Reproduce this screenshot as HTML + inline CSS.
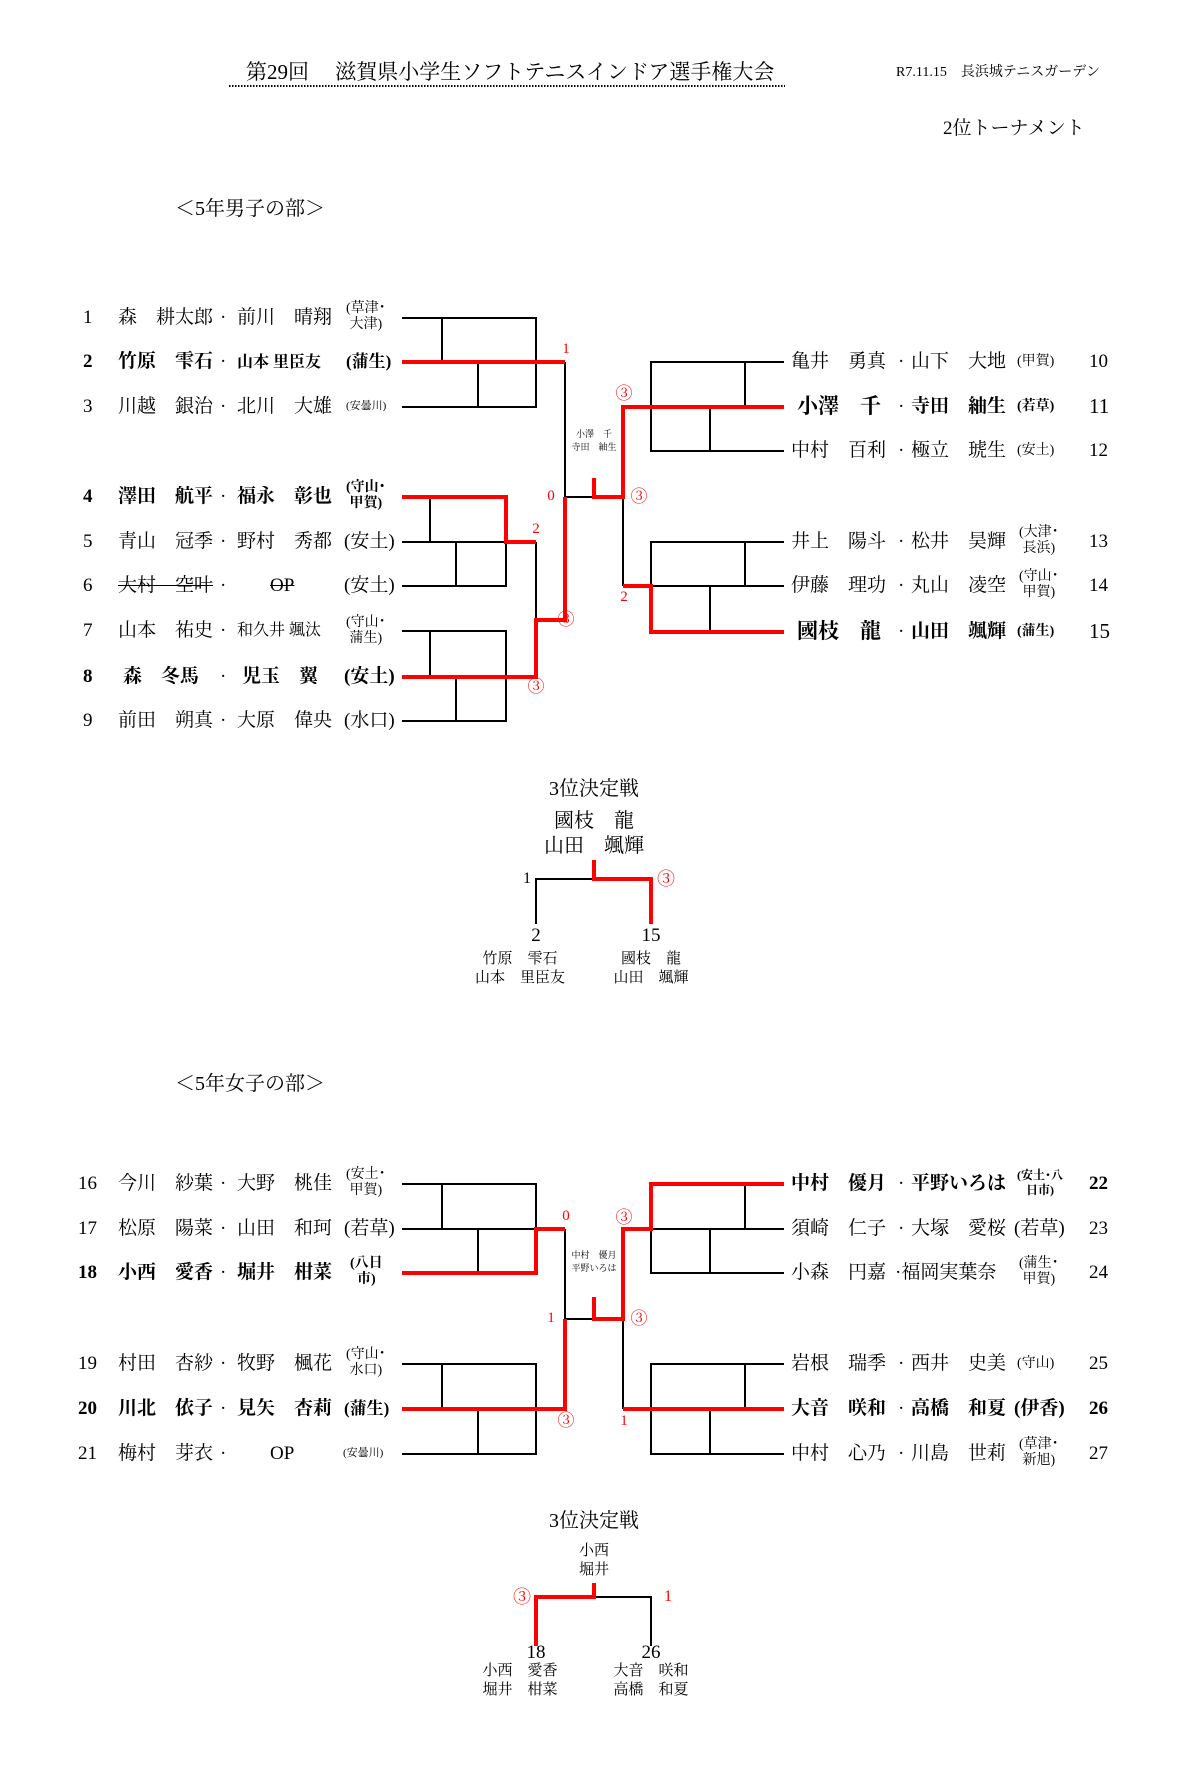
<!DOCTYPE html>
<html><head><meta charset="utf-8">
<style>
body{margin:0;background:#fff;}
#p{position:relative;width:1200px;height:1785px;overflow:hidden;background:#fff;font-family:"Liberation Serif","Noto Serif CJK JP","Noto Serif CJK SC",serif;color:#000;}
.t{position:absolute;white-space:nowrap;line-height:1;font-size:19px;}
.b{font-weight:bold;}
.s{font-size:14px;line-height:16px;text-align:center;}
.xs{font-size:11px;}
.r{color:#f00;}
.c{transform:translateX(-50%);text-align:center;}
.st{text-decoration:line-through;}
svg{position:absolute;left:0;top:0;}
</style></head><body><div id="p">
<svg width="1200" height="1785" fill="none">
<g stroke="#000" stroke-width="2">
<path d="M402 318H536V407H402M442 318V362M478 362V407M402 362H536M565 362V497"/>
<path d="M402 497H506V586H402M402 542H536M430 497V542M456 542V586M536 542V620"/>
<path d="M402 631H506V721H402M430 631V677M456 677V721"/>
<path d="M565 497H594M623 497V586"/>
<path d="M784 362H651V451H784M745 362V407M710 407V451"/>
<path d="M784 542H651V586H784M745 542V586M710 586V632"/>
<path d="M536 924V879H594"/>
<path d="M402 1184H536V1273M442 1184V1229M478 1229V1273M402 1229H536M565 1229V1319H594"/>
<path d="M402 1364H536V1454H402M442 1364V1409M478 1409V1454"/>
<path d="M623 1319V1409"/>
<path d="M651 1229H784M651 1229V1273H784M745 1184V1229M710 1229V1273"/>
<path d="M784 1364H651V1454H784M651 1409H784M745 1364V1409M710 1409V1454"/>
<path d="M594 1597H651V1646"/>
</g>
<g stroke="#f00" stroke-width="4">
<path d="M402 362H565"/>
<path d="M402 497H506V542H536"/>
<path d="M402 677H536V620H565V497"/>
<path d="M594 478V497H623V407H784"/>
<path d="M623 586H651V632H784"/>
<path d="M594 860V879H651V924"/>
<path d="M402 1273H536V1229H565"/>
<path d="M565 1319V1409H402"/>
<path d="M594 1297V1319H623V1229H651V1184H784"/>
<path d="M623 1409H784"/>
<path d="M536 1646V1597H594V1583"/>
</g>
<line x1="229" y1="86" x2="785" y2="86" stroke="#000" stroke-width="2" stroke-dasharray="1.5 1.5"/>
</svg>

<div class="t" style="left:246px;top:62px;font-size:21px;">第29回　 滋賀県小学生ソフトテニスインドア選手権大会</div>
<div class="t" style="left:896px;top:66px;font-size:14px;">R7.11.15　長浜城テニスガーデン</div>
<div class="t" style="left:943px;top:119px;font-size:19px;">2位トーナメント</div>
<div class="t" style="left:175px;top:199px;font-size:20px;">＜5年男子の部＞</div>

<!-- boys left -->
<div class="t" style="left:83px;top:308px;">1</div><div class="t" style="left:118px;top:308px;">森　耕太郎</div><div class="t" style="left:220px;top:308px;">·</div><div class="t" style="left:237px;top:308px;">前川　晴翔</div><div class="t s" style="left:346px;top:301px;">(草津･<br>大津)</div>
<div class="t b" style="left:83px;top:352px;">2</div><div class="t b" style="left:118px;top:352px;">竹原　雫石</div><div class="t" style="left:220px;top:352px;">·</div><div class="t b" style="left:237px;top:355px;font-size:16px;">山本 里臣友</div><div class="t b" style="left:346px;top:353px;font-size:17px;">(蒲生)</div>
<div class="t" style="left:83px;top:397px;">3</div><div class="t" style="left:118px;top:397px;">川越　銀治</div><div class="t" style="left:220px;top:397px;">·</div><div class="t" style="left:237px;top:397px;">北川　大雄</div><div class="t xs" style="left:346px;top:401px;">(安曇川)</div>
<div class="t b" style="left:83px;top:487px;">4</div><div class="t b" style="left:118px;top:487px;">澤田　航平</div><div class="t" style="left:220px;top:487px;">·</div><div class="t b" style="left:237px;top:487px;">福永　彰也</div><div class="t s b" style="left:346px;top:480px;">(守山･<br>甲賀)</div>
<div class="t" style="left:83px;top:532px;">5</div><div class="t" style="left:118px;top:532px;">青山　冠季</div><div class="t" style="left:220px;top:532px;">·</div><div class="t" style="left:237px;top:532px;">野村　秀都</div><div class="t" style="left:344px;top:532px;">(安土)</div>
<div class="t" style="left:83px;top:576px;">6</div><div class="t st" style="left:118px;top:576px;">大村　空叶</div><div class="t" style="left:220px;top:576px;">·</div><div class="t st" style="left:270px;top:576px;">OP</div><div class="t" style="left:344px;top:576px;">(安土)</div>
<div class="t" style="left:83px;top:621px;">7</div><div class="t" style="left:118px;top:621px;">山本　祐史</div><div class="t" style="left:220px;top:621px;">·</div><div class="t" style="left:237px;top:623px;font-size:16px;">和久井 颯汰</div><div class="t s" style="left:346px;top:615px;">(守山･<br>蒲生)</div>
<div class="t b" style="left:83px;top:667px;">8</div><div class="t b" style="left:123px;top:667px;">森　冬馬</div><div class="t" style="left:220px;top:667px;">·</div><div class="t b" style="left:242px;top:667px;">児玉　翼</div><div class="t b" style="left:344px;top:667px;">(安土)</div>
<div class="t" style="left:83px;top:711px;">9</div><div class="t" style="left:118px;top:711px;">前田　朔真</div><div class="t" style="left:220px;top:711px;">·</div><div class="t" style="left:237px;top:711px;">大原　偉央</div><div class="t" style="left:344px;top:711px;">(水口)</div>

<!-- boys right -->
<div class="t" style="left:791px;top:352px;">亀井　勇真</div><div class="t" style="left:898px;top:352px;">·</div><div class="t" style="left:911px;top:352px;">山下　大地</div><div class="t" style="left:1017px;top:355px;font-size:14px;">(甲賀)</div><div class="t" style="left:1089px;top:352px;">10</div>
<div class="t b" style="left:797px;top:396px;font-size:21px;">小澤　千</div><div class="t" style="left:898px;top:397px;">·</div><div class="t b" style="left:911px;top:397px;">寺田　紬生</div><div class="t b" style="left:1017px;top:400px;font-size:14px;">(若草)</div><div class="t" style="left:1089px;top:396px;font-size:21px;">11</div>
<div class="t" style="left:791px;top:441px;">中村　百利</div><div class="t" style="left:898px;top:441px;">·</div><div class="t" style="left:911px;top:441px;">極立　琥生</div><div class="t" style="left:1017px;top:444px;font-size:14px;">(安土)</div><div class="t" style="left:1089px;top:441px;">12</div>
<div class="t" style="left:791px;top:532px;">井上　陽斗</div><div class="t" style="left:898px;top:532px;">·</div><div class="t" style="left:911px;top:532px;">松井　昊輝</div><div class="t s" style="left:1019px;top:525px;">(大津･<br>長浜)</div><div class="t" style="left:1089px;top:532px;">13</div>
<div class="t" style="left:791px;top:576px;">伊藤　理功</div><div class="t" style="left:898px;top:576px;">·</div><div class="t" style="left:911px;top:576px;">丸山　凌空</div><div class="t s" style="left:1019px;top:569px;">(守山･<br>甲賀)</div><div class="t" style="left:1089px;top:576px;">14</div>
<div class="t b" style="left:797px;top:621px;font-size:21px;">國枝　龍</div><div class="t" style="left:898px;top:622px;">·</div><div class="t b" style="left:911px;top:622px;">山田　颯輝</div><div class="t b" style="left:1017px;top:625px;font-size:14px;">(蒲生)</div><div class="t" style="left:1089px;top:621px;font-size:21px;">15</div>

<!-- boys labels -->
<div class="t r c" style="left:566px;top:342px;font-size:15px;">1</div>
<div class="t r c" style="left:551px;top:489px;font-size:15px;">0</div>
<div class="t r c" style="left:536px;top:522px;font-size:15px;">2</div>
<div class="t r c" style="left:566px;top:611px;font-size:17px;">③</div>
<div class="t r c" style="left:536px;top:678px;font-size:17px;">③</div>
<div class="t r c" style="left:624px;top:385px;font-size:17px;">③</div>
<div class="t r c" style="left:639px;top:488px;font-size:17px;">③</div>
<div class="t r c" style="left:624px;top:590px;font-size:15px;">2</div>
<div class="t c" style="left:594px;top:428px;font-size:9px;line-height:13px;">小澤　千<br>寺田　紬生</div>

<!-- boys 3rd -->
<div class="t c" style="left:594px;top:779px;font-size:20px;">3位決定戦</div>
<div class="t c" style="left:594px;top:811px;font-size:20px;">國枝　龍</div>
<div class="t c" style="left:594px;top:836px;font-size:20px;">山田　颯輝</div>
<div class="t c" style="left:527px;top:871px;font-size:16px;">1</div>
<div class="t r c" style="left:666px;top:870px;font-size:18px;">③</div>
<div class="t c" style="left:536px;top:926px;font-size:19px;">2</div>
<div class="t c" style="left:651px;top:926px;font-size:19px;">15</div>
<div class="t c" style="left:520px;top:950px;font-size:15px;line-height:19px;">竹原　雫石<br>山本　里臣友</div>
<div class="t c" style="left:651px;top:950px;font-size:15px;line-height:19px;">國枝　龍<br>山田　颯輝</div>

<div class="t" style="left:175px;top:1074px;font-size:20px;">＜5年女子の部＞</div>

<!-- girls left -->
<div class="t" style="left:78px;top:1174px;">16</div><div class="t" style="left:118px;top:1174px;">今川　紗葉</div><div class="t" style="left:220px;top:1174px;">·</div><div class="t" style="left:237px;top:1174px;">大野　桃佳</div><div class="t s" style="left:346px;top:1167px;">(安土･<br>甲賀)</div>
<div class="t" style="left:78px;top:1219px;">17</div><div class="t" style="left:118px;top:1219px;">松原　陽菜</div><div class="t" style="left:220px;top:1219px;">·</div><div class="t" style="left:237px;top:1219px;">山田　和珂</div><div class="t" style="left:344px;top:1219px;">(若草)</div>
<div class="t b" style="left:78px;top:1263px;">18</div><div class="t b" style="left:118px;top:1263px;">小西　愛香</div><div class="t" style="left:220px;top:1263px;">·</div><div class="t b" style="left:237px;top:1263px;">堀井　柑菜</div><div class="t s b" style="left:350px;top:1256px;">(八日<br>市)</div>
<div class="t" style="left:78px;top:1354px;">19</div><div class="t" style="left:118px;top:1354px;">村田　杏紗</div><div class="t" style="left:220px;top:1354px;">·</div><div class="t" style="left:237px;top:1354px;">牧野　楓花</div><div class="t s" style="left:346px;top:1347px;">(守山･<br>水口)</div>
<div class="t b" style="left:78px;top:1399px;">20</div><div class="t b" style="left:118px;top:1399px;">川北　依子</div><div class="t" style="left:220px;top:1399px;">·</div><div class="t b" style="left:237px;top:1399px;">見矢　杏莉</div><div class="t b" style="left:344px;top:1400px;font-size:17px;">(蒲生)</div>
<div class="t" style="left:78px;top:1444px;">21</div><div class="t" style="left:118px;top:1444px;">梅村　芽衣</div><div class="t" style="left:220px;top:1444px;">·</div><div class="t" style="left:270px;top:1444px;">OP</div><div class="t xs" style="left:343px;top:1448px;">(安曇川)</div>

<!-- girls right -->
<div class="t b" style="left:791px;top:1174px;">中村　優月</div><div class="t" style="left:898px;top:1174px;">·</div><div class="t b" style="left:911px;top:1174px;">平野いろは</div><div class="t s b" style="left:1017px;top:1168px;font-size:12px;line-height:15px;">(安土･八<br>日市)</div><div class="t b" style="left:1089px;top:1174px;">22</div>
<div class="t" style="left:791px;top:1219px;">須崎　仁子</div><div class="t" style="left:898px;top:1219px;">·</div><div class="t" style="left:911px;top:1219px;">大塚　愛桜</div><div class="t" style="left:1014px;top:1219px;">(若草)</div><div class="t" style="left:1089px;top:1219px;">23</div>
<div class="t" style="left:791px;top:1263px;">小森　円嘉</div><div class="t" style="left:895px;top:1263px;">·福岡実葉奈</div><div class="t s" style="left:1019px;top:1256px;">(蒲生･<br>甲賀)</div><div class="t" style="left:1089px;top:1263px;">24</div>
<div class="t" style="left:791px;top:1354px;">岩根　瑞季</div><div class="t" style="left:898px;top:1354px;">·</div><div class="t" style="left:911px;top:1354px;">西井　史美</div><div class="t" style="left:1017px;top:1357px;font-size:14px;">(守山)</div><div class="t" style="left:1089px;top:1354px;">25</div>
<div class="t b" style="left:791px;top:1399px;">大音　咲和</div><div class="t" style="left:898px;top:1399px;">·</div><div class="t b" style="left:911px;top:1399px;">高橋　和夏</div><div class="t b" style="left:1014px;top:1399px;">(伊香)</div><div class="t b" style="left:1089px;top:1399px;">26</div>
<div class="t" style="left:791px;top:1444px;">中村　心乃</div><div class="t" style="left:898px;top:1444px;">·</div><div class="t" style="left:911px;top:1444px;">川島　世莉</div><div class="t s" style="left:1019px;top:1437px;">(草津･<br>新旭)</div><div class="t" style="left:1089px;top:1444px;">27</div>

<!-- girls labels -->
<div class="t r c" style="left:566px;top:1209px;font-size:15px;">0</div>
<div class="t r c" style="left:551px;top:1311px;font-size:15px;">1</div>
<div class="t r c" style="left:566px;top:1412px;font-size:17px;">③</div>
<div class="t r c" style="left:624px;top:1209px;font-size:17px;">③</div>
<div class="t r c" style="left:639px;top:1310px;font-size:17px;">③</div>
<div class="t r c" style="left:624px;top:1414px;font-size:15px;">1</div>
<div class="t c" style="left:594px;top:1249px;font-size:9px;line-height:13px;">中村　優月<br>平野いろは</div>

<!-- girls 3rd -->
<div class="t c" style="left:594px;top:1511px;font-size:20px;">3位決定戦</div>
<div class="t c" style="left:594px;top:1542px;font-size:15px;line-height:19px;">小西<br>堀井</div>
<div class="t r c" style="left:522px;top:1588px;font-size:18px;">③</div>
<div class="t r c" style="left:668px;top:1589px;font-size:16px;">1</div>
<div class="t c" style="left:536px;top:1643px;font-size:19px;">18</div>
<div class="t c" style="left:651px;top:1643px;font-size:19px;">26</div>
<div class="t c" style="left:520px;top:1662px;font-size:15px;line-height:19px;">小西　愛香<br>堀井　柑菜</div>
<div class="t c" style="left:651px;top:1662px;font-size:15px;line-height:19px;">大音　咲和<br>高橋　和夏</div>
</div></body></html>
